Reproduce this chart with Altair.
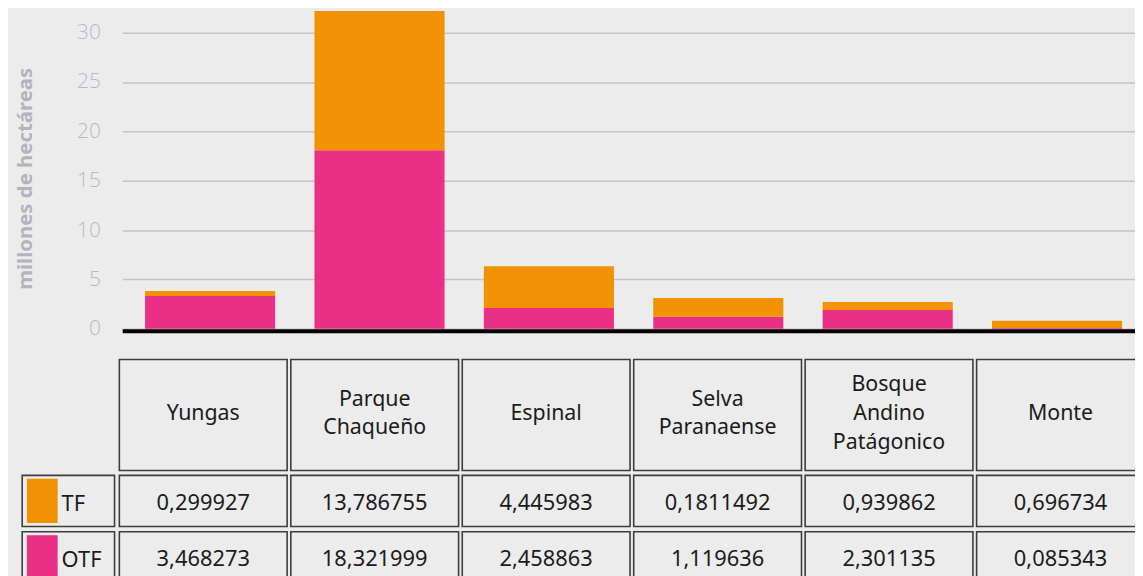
import altair as alt
import pandas as pd

# ---------------- data ----------------
regiones = ["Yungas", "Parque Chaqueño", "Espinal", "Selva Paranaense",
            "Bosque Andino Patágonico", "Monte"]
encabezados = ["Yungas", "Parque\nChaqueño", "Espinal", "Selva\nParanaense",
               "Bosque\nAndino\nPatágonico", "Monte"]
series = ["TF", "OTF"]

# bar heights (millones de hectáreas)
tf_barra = [0.50, 14.10, 4.22, 1.91, 0.80, 0.72]
otf_barra = [3.32, 18.10, 2.11, 1.21, 1.91, 0.085]

# values printed in the table
tf_tabla = ["0,299927", "13,786755", "4,445983", "0,1811492", "0,939862", "0,696734"]
otf_tabla = ["3,468273", "18,321999", "2,458863", "1,119636", "2,301135", "0,085343"]

y_ticks = [0, 5, 10, 15, 20, 25, 30]

# ---------------- style ----------------
BG = "#ececec"
ORANGE = "#f39200"
PINK = "#e92f86"
CELL = "#3d3d3d"
TXT = "#1b1b1b"
FONT = "Noto Sans"

bars_df = pd.DataFrame({
    "region": regiones * 2,
    "serie": ["OTF"] * len(regiones) + ["TF"] * len(regiones),
    "valor": otf_barra + tf_barra,
    "orden": [0] * len(regiones) + [1] * len(regiones),
})

bars = alt.Chart(bars_df).mark_bar().encode(
    x=alt.X("region:N", sort=regiones,
            scale=alt.Scale(range=[0, 1020], paddingInner=0.232,
                            paddingOuter=0.1055, align=0.64),
            axis=alt.Axis(labels=False, ticks=False, title=None, grid=False,
                          domainColor="#000000", domainWidth=4, offset=2, zindex=1)),
    y=alt.Y("valor:Q", stack="zero",
            scale=alt.Scale(domain=[0, 32.3], nice=False),
            axis=alt.Axis(values=y_ticks, grid=True, gridColor="#c4c3cd", gridWidth=1.5,
                          domain=False, ticks=False, labelPadding=22,
                          labelFont="Open Sans", labelFontWeight=300, labelFontSize=21,
                          labelColor="#b8b8c4",
                          title="millones de hectáreas", titleFont=FONT,
                          titleFontSize=20.5, titleFontWeight="bold",
                          titleColor="#b3b2bf", titleX=-87, titleY=169.5)),
    color=alt.Color("serie:N", scale=alt.Scale(domain=series, range=[ORANGE, PINK]),
                    legend=None),
    order=alt.Order("orden:Q", sort="ascending"),
)

# ---------------- table: header row ----------------
def col_x():
    return alt.X("region:N", sort=regiones,
                 scale=alt.Scale(range=[-4.7, 1031.3], paddingInner=0.0214,
                                 paddingOuter=0.0107),
                 axis=None)

head_df = pd.DataFrame({"region": regiones, "texto": encabezados,
                        "fila": ["encabezado"] * len(regiones),
                        "lineas": [len(t.split("\n")) for t in encabezados]})
head_base = alt.Chart(head_df).encode(
    x=col_x(),
    y=alt.Y("fila:N", scale=alt.Scale(range=[352, 463.7], paddingInner=0, paddingOuter=0),
            axis=None),
)
LH = 29
head_text = [
    head_base.transform_filter(alt.datum.lineas == n)
    .mark_text(font=FONT, fontSize=21.5, color=TXT, lineBreak="\n",
               lineHeight=LH, dy=-1 - (n - 1) * LH / 2)
    .encode(text="texto:N")
    for n in (1, 2, 3)
]
header = alt.layer(
    head_base.mark_rect(fill=BG, stroke=CELL, strokeWidth=1.6),
    *head_text,
)

# ---------------- table: value rows ----------------
rows_df = pd.DataFrame({
    "region": regiones * 2,
    "serie": ["TF"] * len(regiones) + ["OTF"] * len(regiones),
    "texto": tf_tabla + otf_tabla,
})
rows_y = alt.Y("serie:N", sort=series,
               scale=alt.Scale(range=[466.1, 579.5], paddingInner=0.092, paddingOuter=0.046),
               axis=None)
rows_base = alt.Chart(rows_df).encode(x=col_x(), y=rows_y)
rows = alt.layer(
    rows_base.mark_rect(fill=BG, stroke=CELL, strokeWidth=1.6),
    rows_base.mark_text(font=FONT, fontSize=22, color=TXT, dy=2).encode(text="texto:N"),
)

# ---------------- table: legend column ----------------
leg_df = pd.DataFrame({"serie": series, "col": ["leyenda"] * len(series)})
leg_cells = alt.Chart(leg_df).mark_rect(fill=BG, stroke=CELL, strokeWidth=1.6).encode(
    x=alt.X("col:N", scale=alt.Scale(range=[-100.7, -7.7], paddingInner=0, paddingOuter=0),
            axis=None),
    y=alt.Y("serie:N", sort=series,
            scale=alt.Scale(range=[466.1, 579.5], paddingInner=0.092, paddingOuter=0.046),
            axis=None),
)
sw_base = alt.Chart(leg_df).encode(
    x=alt.X("col:N", scale=alt.Scale(range=[-96, -65], paddingInner=0, paddingOuter=0),
            axis=None),
    y=alt.Y("serie:N", sort=series,
            scale=alt.Scale(range=[465.8, 579.8], paddingInner=0.216, paddingOuter=0.108),
            axis=None),
)
swatch = alt.layer(
    sw_base.mark_rect().encode(
        color=alt.Color("serie:N", scale=alt.Scale(domain=series, range=[ORANGE, PINK]),
                        legend=None)),
    sw_base.mark_text(font=FONT, fontSize=22, color=TXT, align="left", dx=19.5, dy=3)
    .encode(text="serie:N"),
)

chart = alt.layer(bars, header, rows, leg_cells, swatch).resolve_scale(
    x="independent", y="independent", color="independent"
).properties(
    width=1020, height=321,
    padding={"left": 115, "top": 0, "right": 0, "bottom": 247},
    autosize=alt.AutoSizeParams(type="none"),
).configure(background=BG).configure_view(stroke=None)

chart.save("out.html", embed_options={"renderer": "svg", "actions": False})
